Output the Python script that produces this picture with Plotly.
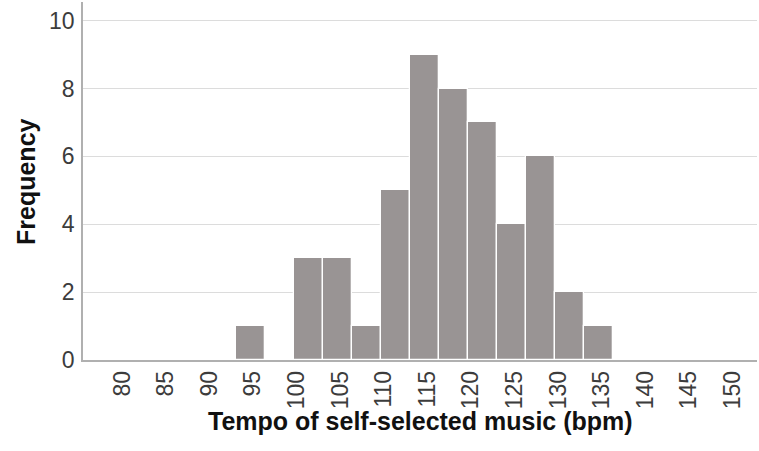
import plotly.graph_objects as go

# Histogram data (bins of width 10/3 bpm starting at 93 bpm)
bin_start = 93.0
bin_width = 10.0 / 3.0
counts = [1, 0, 3, 3, 1, 5, 9, 8, 7, 4, 6, 2, 1]

x_ticks = [80, 85, 90, 95, 100, 105, 110, 115, 120, 125, 130, 135, 140, 145, 150]
y_ticks = [0, 2, 4, 6, 8, 10]

centers = [bin_start + bin_width * (i + 0.5) for i in range(len(counts))]

fig = go.Figure()
fig.add_trace(go.Bar(
    x=centers, y=counts, width=[bin_width] * len(counts),
    marker=dict(color="#999494", line=dict(color="white", width=1.3)),
    hoverinfo="x+y",
))

tick_font = dict(family="Liberation Sans, Arial, sans-serif", size=23, color="#3c3c3c")
title_font = dict(family="Liberation Sans, Arial, sans-serif", size=25, color="#111111")

fig.update_layout(
    width=759, height=451,
    margin=dict(l=83, r=2, t=2, b=91, autoexpand=False),
    plot_bgcolor="white", paper_bgcolor="white",
    showlegend=False,
    bargap=0,
    xaxis=dict(
        range=[75.5, 152.8], tickmode="array", tickvals=x_ticks,
        ticktext=[str(v) for v in x_ticks], tickangle=-90,
        tickfont=tick_font, showgrid=False, zeroline=False, automargin=False,
        showline=True, linecolor="#b0b0b0", linewidth=1.5,
        ticks="", 
    ),
    yaxis=dict(
        range=[0, 10.55], tickmode="array", tickvals=y_ticks, automargin=False,
        tickfont=tick_font, showgrid=True, gridcolor="#dcdcdc", gridwidth=1.2,
        zeroline=False, showline=True, linecolor="#b0b0b0", linewidth=1.5,
        ticks="outside", ticklen=2, tickcolor="white",
    ),
    annotations=[
        dict(text="<b>Tempo of self-selected music (bpm)</b>", xref="paper", yref="paper",
             x=0.5, y=-0.170, xanchor="center", yanchor="middle", showarrow=False,
             font=title_font),
        dict(text="<b>Frequency</b>", xref="paper", yref="paper",
             x=-0.0846, y=0.5, xanchor="center", yanchor="middle", showarrow=False,
             textangle=-90, font=title_font),
    ],
)

fig.write_html(
    "out.html",
    config={"displayModeBar": False},
    post_script="document.body.style.margin='0';document.body.style.overflow='hidden';",
)
